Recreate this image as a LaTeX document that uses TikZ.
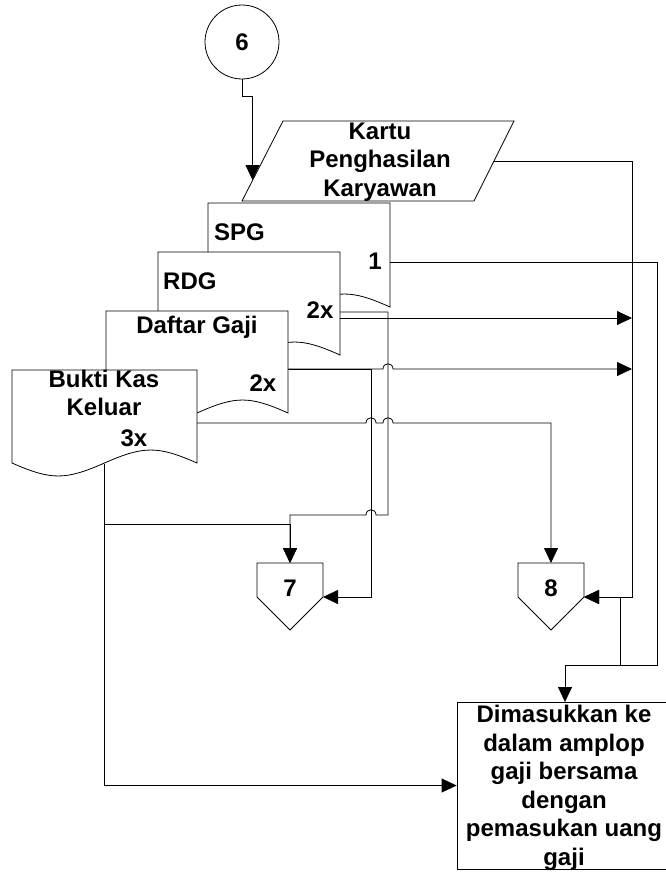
\documentclass[tikz,border=0pt]{standalone}
\usepackage{fontspec}
\setmainfont{Liberation Sans}
\usetikzlibrary{arrows.meta}

% document shape: left, top, right, bottom (middle of the wave)
\newcommand{\docshape}[4]{%
  \draw[outline] (#1,#2) -- (#3,#2) -- (#3,#4)
    .. controls ({#3-0.212*(#3-#1)},{#4-17.3}) and ({(#1+#3)/2+0.212*(#3-#1)},{#4-17.3}) .. ({(#1+#3)/2},#4)
    .. controls ({(#1+#3)/2-0.212*(#3-#1)},{#4+17.3}) and ({#1+0.212*(#3-#1)},{#4+17.3}) .. (#1,#4) -- cycle;}
% line hop over a vertical line at x, on height y, direction +1/-1
\newcommand{\hop}[3]{-- ({#1-5*#3},#2) .. controls ({#1-5*#3},{#2-7}) and ({#1+5*#3},{#2-7}) .. ({#1+5*#3},#2)}

\begin{document}
\begin{tikzpicture}[x=1pt,y=-1pt,
  outline/.style={draw=black,line width=0.8pt,fill=white},
  lbl/.style={font=\bfseries\fontsize{24}{28.5}\selectfont,inner sep=0pt},
  flow/.style={line width=0.8pt,-{Triangle[length=15pt,width=14pt]}}]
\useasboundingbox (0,0) rectangle (666,875);

\node[outline,circle,minimum size=74pt,lbl] (c6) at (242,42) {6};

\draw[outline] (242,201) -- (283,121) -- (514,121) -- (474,201) -- cycle;
\node[lbl,align=center] (kartu) at (380,162) {Kartu\\Penghasilan\\Karyawan};
\coordinate (kartu-in) at (252.5,180);
\coordinate (kartu-out) at (494,161);

\foreach \xa/\ya/\xb/\yb in {208/203/390/307,158/252/340/355,106/311/288/413,12/370/197/463}
  {\docshape{\xa}{\ya}{\xb}{\yb}}

\node[lbl,anchor=base west] (spg) at (214,240) {SPG};
\node[lbl,anchor=base] (spg-n) at (375,269) {1};
\node[lbl,anchor=base west] (rdg) at (163,289) {RDG};
\node[lbl,anchor=base] (rdg-n) at (320,318) {2x};
\node[lbl,anchor=base] (dg) at (197,333) {Daftar Gaji};
\node[lbl,anchor=base] (dg-n) at (263,391) {2x};
\node[lbl,align=center,anchor=north] (bkk) at (104,369.8) {Bukti Kas\\Keluar};
\node[lbl,anchor=base] (bkk-n) at (134,446) {3x};
\coordinate (spg-out) at (390,262);
\coordinate (rdg-out) at (340,312);
\coordinate (rdg-out2) at (340,318);
\coordinate (dg-out) at (288,369);
\coordinate (bkk-out) at (197,423);
\coordinate (bkk-bot) at (104,464);

\foreach \xc/\lab in {290/7,551/8}
{
  \draw[outline] (\xc-33,563) -- ++(66,0) -- ++(0,34) -- ++(-33,33) -- ++(-33,-33) -- cycle;
  \node[lbl,anchor=base] (off\lab) at (\xc,596) {\lab};
  \coordinate (off\lab-n) at (\xc,563);
  \coordinate (off\lab-e) at (\xc+33,597);
}

\node[outline,minimum width=243pt,minimum height=167pt] (box) at (578.5,785.5) {};
\node[lbl,align=center] (box-text) at (564,788) 
  {Dimasukkan ke\\dalam amplop\\gaji bersama\\dengan\\pemasukan uang\\gaji};
\coordinate (box-in) at (565,702);

\draw[flow] (c6.south) -- ++(0,17) -| (kartu-in);
\draw[flow] (kartu-out) -- (632,161) |- (off8-e);
\draw[flow] (spg-out) -| (657,665) -| (box-in);
\draw[flow] (spg-out) -| (657,665) -- (620,665) |- (off8-e);
\draw[flow] (rdg-out2) -- (632,318);
\draw[flow] (rdg-out) -- (388,312) -- (388,515) \hop{371}{515}{-1} -| (off7-n);
\draw[flow] (dg-out) -- (371,369) |- (off7-e);
\draw[flow] (dg-out) \hop{388}{369}{1} -- (632,369);
\draw[flow] (bkk-out) \hop{371}{423}{1} \hop{388}{423}{1} -| (off8-n);
\draw[flow] (bkk-bot) |- (290,524) -- (off7-n);
\draw[flow] (bkk-bot) |- (box.west);
\end{tikzpicture}
\end{document}
